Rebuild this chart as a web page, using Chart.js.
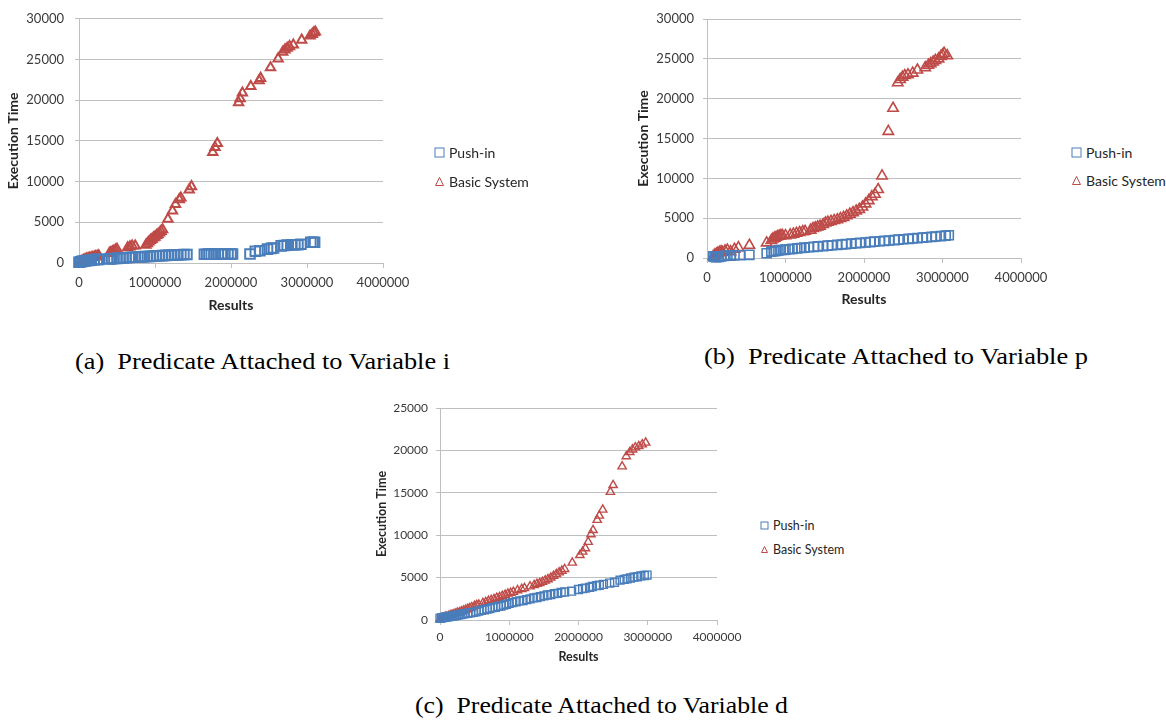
<!DOCTYPE html>
<html><head><meta charset="utf-8">
<script src="https://cdn.jsdelivr.net/npm/chart.js@4.4.0/dist/chart.umd.min.js"></script>
<style>
body{margin:0;width:1166px;height:727px;background:#fff;position:relative;overflow:hidden}
.box{position:absolute}
.cap{position:absolute;font-family:"Liberation Serif","Times New Roman",serif;font-size:23px;white-space:pre;color:#000;line-height:1;transform-origin:0 0}
.leg{position:absolute;font-family:Lato,"Open Sans",sans-serif;color:#262626;display:flex;align-items:center;white-space:pre}
.leg svg{margin-right:4px}
</style></head><body>
<div class="box" style="left:0;top:0"><canvas id="ca" width="440" height="330"></canvas></div>
<div class="box" style="left:620px;top:0"><canvas id="cb" width="440" height="330"></canvas></div>
<div class="box" style="left:360px;top:390px"><canvas id="cc" width="400" height="290"></canvas></div>
<div class="cap" id="capA" data-w="375" style="left:75px;top:350px">(a)  Predicate Attached to Variable i</div>
<div class="cap" id="capB" data-w="384" style="left:704px;top:345px">(b)  Predicate Attached to Variable p</div>
<div class="cap" id="capC" data-w="373" style="left:415px;top:694px">(c)  Predicate Attached to Variable d</div>
<script>
const seriesNames = ['Push-in', 'Basic System'];
const xTickValues = [0, 1000000, 2000000, 3000000, 4000000];
const yTicksAB = [0, 5000, 10000, 15000, 20000, 25000, 30000];
const yTicksC = [0, 5000, 10000, 15000, 20000, 25000];
const xTitle = 'Results';
const yTitle = 'Execution Time';

// (a) Predicate Attached to Variable i
const aPushX = [0,20000,40000,60000,80000,100000,130000,160000,200000,240000,260000,
  400000,430000,460000,500000,540000,580000,620000,660000,700000,740000,800000,830000,860000,900000,940000,980000,1020000,1060000,1100000,1140000,1180000,1220000,1260000,1300000,1340000,1380000,1420000,
  1650000,1680000,1710000,1740000,1780000,1830000,1880000,1920000,1960000,2000000,2020000,
  2250000,2320000,2380000,2480000,2530000,2560000,2660000,2700000,2740000,2800000,2840000,2880000,2920000,3050000,3080000,3100000];
const aPushY = [100,150,200,250,250,300,300,350,400,450,450,
  500,520,550,570,600,620,650,680,700,720,740,760,780,800,820,850,870,890,910,930,950,970,990,1000,1020,1040,1050,
  1080,1080,1090,1090,1090,1100,1100,1100,1110,1110,1110,
  1100,1450,1500,1700,1800,1850,2100,2150,2200,2250,2250,2250,2300,2550,2550,2550];
const aBasicX = [20000,40000,60000,80000,100000,120000,140000,160000,180000,200000,220000,240000,260000,
  400000,420000,440000,460000,480000,500000,
  640000,670000,700000,740000,
  880000,900000,920000,940000,960000,980000,1000000,1020000,1040000,1060000,1080000,1100000,
  1170000,1230000,1270000,1320000,1340000,1450000,1480000,
  1760000,1790000,1820000,2100000,2120000,2150000,2260000,2370000,2390000,
  2520000,2620000,2680000,2710000,2740000,2770000,2820000,2930000,3040000,3070000,3090000,3110000];
const aBasicY = [150,250,350,450,500,550,600,650,700,750,800,850,900,
  1200,1300,1400,1500,1600,1700,
  1900,2000,2100,2100,
  2200,2400,2600,2800,2900,3100,3200,3400,3500,3700,3900,4100,
  5400,6400,7200,7800,8000,9000,9400,
  13600,14200,14700,19700,20200,20900,21700,22400,22700,
  24000,25100,25900,26200,26400,26600,26800,27400,27900,28100,28300,28400];

// (b) Predicate Attached to Variable p
const bPushX = [80000,100000,120000,150000,180000,220000,260000,300000,350000,420000,540000,
  760000,820000,850000,880000,910000,940000,975000,1000000,1050000,1090000,1150000,1200000,1240000,1300000,1360000,1410000,1480000,1540000,1590000,1660000,1720000,1770000,1840000,1900000,1950000,2020000,2080000,2130000,2200000,2260000,2320000,2390000,2440000,2500000,2570000,2620000,2680000,2750000,2800000,2860000,2910000,2980000,3040000,3080000];
const bPushY = [200,150,100,150,200,250,300,300,350,350,400,
  600,800,850,900,950,1000,1000,1050,1100,1150,1200,1250,1300,1350,1400,1450,1500,1550,1600,1650,1700,1750,1800,1850,1900,1950,2000,2050,2100,2150,2200,2250,2300,2350,2400,2450,2500,2550,2600,2650,2700,2750,2800,2850];
const bBasicX = [80000,100000,120000,140000,160000,180000,200000,230000,260000,300000,350000,400000,540000,
  760000,820000,840000,860000,880000,900000,920000,940000,960000,1000000,1060000,1100000,1140000,1180000,1220000,1250000,1320000,1350000,1380000,1410000,1440000,1480000,1510000,1540000,1580000,1620000,1660000,1700000,1740000,1780000,1820000,1860000,1900000,1940000,1980000,2020000,2060000,2100000,2140000,2180000,2230000,
  2310000,2370000,2430000,2460000,2490000,2520000,2560000,2620000,2680000,2780000,2820000,2850000,2880000,2910000,2950000,2980000,3000000,3020000,3060000];
const bBasicY = [200,400,500,600,700,800,700,900,1000,800,1100,1300,1600,
  1900,2200,2400,2500,2600,2700,2750,2800,2850,2800,2900,3000,3100,3200,3300,3350,3500,3700,3800,3900,4000,4200,4400,4500,4600,4700,4800,4950,5100,5300,5500,5700,5900,6100,6400,6800,7200,7700,8000,8600,10300,
  15900,18800,22000,22400,22700,22900,23000,23200,23600,23900,24200,24400,24600,24800,25000,25300,25500,25700,25400];

// (c) Predicate Attached to Variable d
const cPushX = [0,20000,40000,60000,90000,120000,150000,180000,210000,240000,270000,300000,330000,360000,400000,440000,480000,520000,560000,600000,640000,680000,720000,760000,800000,840000,880000,920000,960000,1000000,1050000,1100000,1150000,1200000,1250000,1300000,1350000,1400000,1450000,1500000,1550000,1600000,1650000,1700000,1750000,1800000,1900000,2000000,2060000,2100000,2160000,2200000,2260000,2300000,2360000,2450000,2520000,2600000,2660000,2700000,2750000,2800000,2850000,2900000,2950000,2990000];
const cPushY = [200,250,280,300,350,380,420,450,500,550,600,650,700,750,800,850,900,950,1050,1150,1200,1300,1350,1450,1500,1600,1650,1750,1850,1950,2050,2150,2250,2300,2400,2500,2600,2650,2750,2850,2950,3000,3100,3150,3250,3300,3400,3600,3700,3750,3850,3950,4050,4100,4200,4350,4450,4700,4800,4850,4950,5050,5100,5200,5250,5300];
const cBasicX = [0,20000,40000,60000,80000,100000,130000,160000,190000,220000,250000,280000,310000,340000,370000,400000,430000,460000,500000,530000,560000,620000,660000,700000,740000,780000,820000,860000,900000,940000,980000,1020000,1060000,1120000,1180000,1220000,1300000,1360000,1400000,1440000,1480000,1520000,1560000,1600000,1640000,1680000,1720000,1760000,1800000,
  1910000,2020000,2060000,2100000,2140000,2180000,2210000,2270000,2300000,2350000,2460000,2500000,2630000,2690000,2740000,2780000,2820000,2870000,2920000,2970000];
const cBasicY = [100,200,250,300,350,400,500,600,650,750,850,900,1000,1100,1200,1300,1400,1500,1650,1750,1800,2000,2100,2250,2350,2450,2600,2700,2850,2950,3100,3200,3300,3500,3650,3750,3950,4100,4250,4350,4500,4650,4800,5000,5200,5400,5600,5800,6000,
  6750,7650,8050,8450,9200,10100,10600,11800,12300,13000,15100,15900,18100,19300,19800,20100,20350,20500,20700,20900];

const BLUE = '#4a7ebb', RED = '#be4b48', GRID = '#bfbfbf', TXT = '#3a3a3a';
const pts = (xs, ys) => xs.map((x, i) => ({x: x, y: ys[i]}));

function makeChart(id, o) {
  const font = {family: 'Lato', size: o.fs};
  const tfont = {family: 'Lato', size: o.tfs, weight: 'bold'};
  new Chart(document.getElementById(id), {
    type: 'scatter',
    data: {datasets: [
      {label: seriesNames[0], data: pts(o.px, o.py), pointStyle: 'rect', pointRadius: o.rs, pointHoverRadius: o.rs,
       borderColor: BLUE, backgroundColor: 'rgba(0,0,0,0)', pointBorderWidth: o.bw, clip: false},
      {label: seriesNames[1], data: pts(o.bx, o.by), pointStyle: 'triangle', pointRadius: o.rt, pointHoverRadius: o.rt,
       borderColor: RED, backgroundColor: 'rgba(0,0,0,0)', pointBorderWidth: o.bw, clip: false}
    ]},
    options: {
      responsive: false, animation: false, devicePixelRatio: 1,
      layout: {padding: o.pad},
      plugins: {legend: {display: false}, tooltip: {enabled: false}},
      scales: {
        x: {type: 'linear', min: 0, max: 4000000,
          afterBuildTicks: s => { s.ticks = xTickValues.map(v => ({value: v})); },
          afterFit: s => { s.height = o.xh; },
          ticks: {font: font, color: TXT, padding: o.xpad, maxRotation: 0, autoSkip: false, callback: v => String(v)},
          grid: {drawOnChartArea: false, drawTicks: true, tickLength: 5, color: GRID},
          border: {color: GRID},
          title: {display: true, text: xTitle, font: tfont, color: '#262626', padding: {top: 0, bottom: 0}}
        },
        y: {type: 'linear', min: 0, max: o.ymax,
          afterBuildTicks: s => { s.ticks = o.yt.map(v => ({value: v})); },
          afterFit: s => { s.width = o.yw; },
          ticks: {font: font, color: TXT, padding: o.ypad, callback: v => String(v)},
          grid: {color: GRID, tickLength: 4},
          border: {color: GRID},
          title: {display: true, text: yTitle, font: tfont, color: '#262626', padding: {top: o.ytp, bottom: 0}}
        }
      }
    }
  });
}

makeChart('ca', {px: aPushX, py: aPushY, bx: aBasicX, by: aBasicY, ymax: 30000, yt: yTicksAB, fs: 13, tfs: 14,
  rs: 6.8, rt: 5.4, bw: 2, pad: {left: 0, top: 15, right: 57, bottom: 16}, xh: 51, yw: 79, xpad: 7, ypad: 11, ytp: 5});
makeChart('cb', {px: bPushX, py: bPushY, bx: bBasicX, by: bBasicY, ymax: 30000, yt: yTicksAB, fs: 13, tfs: 14,
  rs: 6.4, rt: 6.0, bw: 1.6, pad: {left: 0, top: 19, right: 39, bottom: 22}, xh: 50, yw: 87, xpad: 7, ypad: 9, ytp: 15});
makeChart('cc', {px: cPushX, py: cPushY, bx: cBasicX, by: cBasicY, ymax: 25000, yt: yTicksC, fs: 12, tfs: 12.5,
  rs: 5.6, rt: 4.8, bw: 1.4, pad: {left: 0, top: 18, right: 43, bottom: 16}, xh: 44, yw: 80, xpad: 5, ypad: 8, ytp: 14});

// legends (HTML)
function legend(x, y1, y2, fs, sz) {
  const sq = `<svg width="${sz+2}" height="${sz+2}"><rect x="1" y="1" width="${sz}" height="${sz}" fill="none" stroke="${BLUE}" stroke-width="1"/></svg>`;
  const tr = `<svg width="${sz+2}" height="${sz+2}"><polygon points="${(sz+2)/2},1.5 ${sz+0.5},${sz+0.5} 1.5,${sz+0.5}" fill="none" stroke="${RED}" stroke-width="1"/></svg>`;
  [[y1, sq, seriesNames[0]], [y2, tr, seriesNames[1]]].forEach(([y, m, t]) => {
    const d = document.createElement('div');
    d.className = 'leg';
    d.style.left = x + 'px'; d.style.top = (y - 10) + 'px'; d.style.height = '20px'; d.style.fontSize = fs + 'px';
    d.innerHTML = m + t;
    document.body.appendChild(d);
  });
}
legend(434, 152, 181, 14, 9);
legend(1071, 152, 180, 14, 9);
legend(760, 525, 549, 12.5, 7);

// stretch captions to the reference's printed width
document.querySelectorAll('.cap').forEach(el => {
  const w = el.getBoundingClientRect().width;
  el.style.transform = 'scaleX(' + (Number(el.dataset.w) / w) + ')';
});
</script>
</body></html>
